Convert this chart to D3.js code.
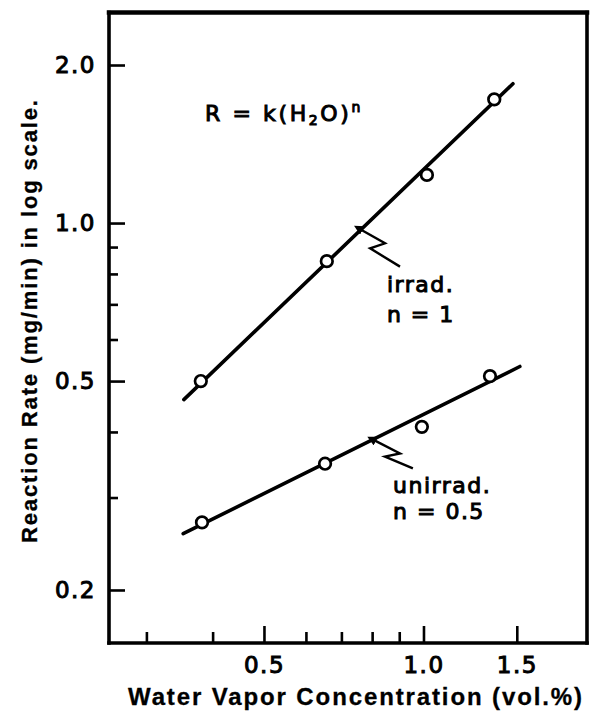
<!DOCTYPE html>
<html>
<head>
<meta charset="utf-8">
<script src="https://cdn.jsdelivr.net/npm/d3@7"></script>
<style>
  html, body { margin: 0; padding: 0; background: #fff; }
  svg { display: block; }
  .lab { font-family: "DejaVu Sans", sans-serif; fill: #000; stroke: #000; stroke-width: 1.0; }
  .title { font-family: "Liberation Sans", Arial, sans-serif; font-weight: bold; fill: #000; stroke: #000; stroke-width: 0.3; }
</style>
</head>
<body>
<svg id="chart" width="591" height="713"></svg>
<script>
// ---- data ----
const irradX = [0.38, 0.657, 1.015, 1.36];
const irradY = [0.50, 0.846, 1.235, 1.72];
const unirradX = [0.382, 0.652, 0.993, 1.335];
const unirradY = [0.269, 0.348, 0.409, 0.511];
// fitted lines (end points)
const irradFitX = [0.353, 1.475];
const irradFitY = [0.461, 1.842];
const unirradFitX = [0.352, 1.52];
const unirradFitY = [0.256, 0.533];
// zig-zag leaders (data units)
const irradLeaderX = [0.764, 0.846, 0.793, 0.903];
const irradLeaderY = [0.970, 0.915, 0.895, 0.826];
const unirradLeaderX = [0.810, 0.903, 0.846, 0.955];
const unirradLeaderY = [0.385, 0.364, 0.359, 0.341];
// ticks
const xMajorTicks = [0.5, 1.0, 1.5];
const xMinorTicks = [0.3, 0.4, 0.6, 0.7, 0.8, 0.9];
const yMajorTicks = [0.2, 0.5, 1.0, 2.0];
const yMinorTicks = [0.3, 0.4, 0.6, 0.7, 0.8, 0.9];
const xDomain = [0.255, 2.035];
const yDomain = [0.1585, 2.518];

// ---- layout ----
const svg = d3.select("#chart");
const L = 109, R = 587, T = 12.5, B = 643;
const x = d3.scaleLog().domain(xDomain).range([L, R]);
const y = d3.scaleLog().domain(yDomain).range([B, T]);

const fmt = d => d3.format(".1f")(d);

// x axis
const gx = svg.append("g").attr("transform", `translate(0,${B})`);
gx.call(d3.axisBottom(x).tickValues(xMajorTicks).tickFormat(fmt).tickSize(-17).tickPadding(14));
const gxm = svg.append("g").attr("transform", `translate(0,${B})`);
gxm.call(d3.axisBottom(x).tickValues(xMinorTicks).tickFormat("").tickSize(-11));
// y axis
const gy = svg.append("g").attr("transform", `translate(${L},0)`);
gy.call(d3.axisLeft(y).tickValues(yMajorTicks).tickFormat(fmt).tickSize(-16).tickPadding(13));
const gym = svg.append("g").attr("transform", `translate(${L},0)`);
gym.call(d3.axisLeft(y).tickValues(yMinorTicks).tickFormat("").tickSize(-9));

svg.selectAll(".domain").remove();
svg.selectAll(".tick line").attr("stroke", "#000").attr("stroke-width", 2.6);
svg.selectAll(".tick text")
  .attr("class", "lab")
  .style("font-size", "23px")
  .style("letter-spacing", "1.5px");

// frame
const frame = svg.append("g").attr("stroke", "#000").attr("stroke-linecap", "square");
frame.append("line").attr("x1", L).attr("x2", R).attr("y1", T).attr("y2", T).attr("stroke-width", 4.5);
frame.append("line").attr("x1", L).attr("x2", R).attr("y1", B).attr("y2", B).attr("stroke-width", 3.6);
frame.append("line").attr("x1", L).attr("x2", L).attr("y1", T).attr("y2", B).attr("stroke-width", 3.6);
frame.append("line").attr("x1", R).attr("x2", R).attr("y1", T).attr("y2", B).attr("stroke-width", 3.6);

// fitted lines
const line = d3.line().x(d => x(d[0])).y(d => y(d[1]));
function drawLine(xs, ys) {
  svg.append("path")
    .attr("d", line(d3.zip(xs, ys)))
    .attr("fill", "none").attr("stroke", "#000")
    .attr("stroke-width", 3.6).attr("stroke-linecap", "round");
}
drawLine(irradFitX, irradFitY);
drawLine(unirradFitX, unirradFitY);

// leaders with arrowheads
svg.append("defs").append("marker")
  .attr("id", "arr").attr("viewBox", "0 0 10 10").attr("refX", 1).attr("refY", 5)
  .attr("markerWidth", 4).attr("markerHeight", 4).attr("orient", "auto-start-reverse")
  .append("path").attr("d", "M0,0 L10,5 L0,10 z").attr("fill", "#000");
function drawLeader(xs, ys) {
  svg.append("path")
    .attr("d", line(d3.zip(xs, ys)))
    .attr("fill", "none").attr("stroke", "#000")
    .attr("stroke-width", 2.4).attr("stroke-linejoin", "miter")
    .attr("marker-start", "url(#arr)");
}
drawLeader(irradLeaderX, irradLeaderY);
drawLeader(unirradLeaderX, unirradLeaderY);

// points
function drawPts(xs, ys) {
  svg.append("g").selectAll("circle").data(d3.zip(xs, ys)).join("circle")
    .attr("cx", d => x(d[0])).attr("cy", d => y(d[1])).attr("r", 5.8)
    .attr("fill", "#fff").attr("stroke", "#000").attr("stroke-width", 2.7);
}
drawPts(irradX, irradY);
drawPts(unirradX, unirradY);

// annotations
function label(txt, xv, yv) {
  return svg.append("text").attr("class", "lab")
    .attr("x", x(xv)).attr("y", y(yv))
    .style("font-size", "22px").style("letter-spacing", "1.5px").text(txt);
}
label("irrad.", 0.853, 0.739);
label("n = 1", 0.853, 0.648);
label("unirrad.", 0.876, 0.306);
label("n = 0.5", 0.876, 0.273);

const eq = svg.append("text").attr("class", "lab")
  .attr("x", x(0.387)).attr("y", y(1.564))
  .style("font-size", "22px").style("letter-spacing", "2.6px");
eq.append("tspan").text("R = k(H");
eq.append("tspan").attr("dy", 4).style("font-size", "14px").text("2");
eq.append("tspan").attr("dy", -4).text("O)");
eq.append("tspan").attr("dy", -9).style("font-size", "14px").text("n");

// axis titles
svg.append("text").attr("class", "title")
  .attr("x", 128).attr("y", 705)
  .attr("textLength", 454)
  .style("font-size", "24px")
  .text("Water Vapor Concentration (vol.%)");

svg.append("text").attr("class", "title")
  .attr("transform", "translate(37,543) rotate(-90)")
  .attr("textLength", 443)
  .style("font-size", "22px")
  .text("Reaction Rate (mg/min) in log scale.");
</script>
</body>
</html>
